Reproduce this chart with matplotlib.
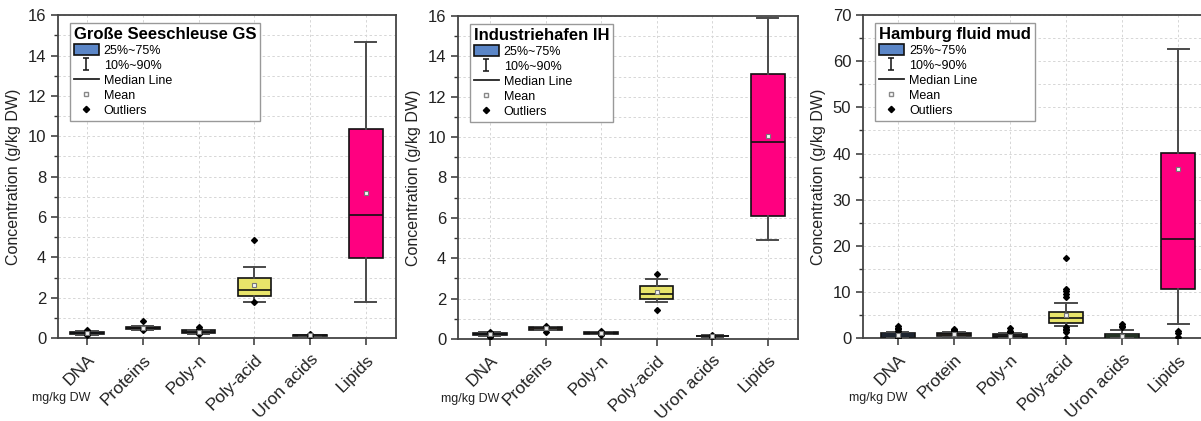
import matplotlib.pyplot as plt
import matplotlib.ticker as mticker
from matplotlib.lines import Line2D
from matplotlib.patches import Patch
from matplotlib.path import Path

plt.rcParams["font.family"] = ["Liberation Sans", "DejaVu Sans"]

# --- data: box statistics per sampling site (g/kg DW) ---
CATEGORIES_GS = ["DNA", "Proteins", "Poly-n", "Poly-acid", "Uron acids", "Lipids"]
CATEGORIES_IH = ["DNA", "Proteins", "Poly-n", "Poly-acid", "Uron acids", "Lipids"]
CATEGORIES_HH = ["DNA", "Protein", "Poly-n", "Poly-acid", "Uron acids", "Lipids"]

GS_P10 = [0.15, 0.40, 0.22, 1.80, 0.10, 1.80]
GS_Q1 = [0.18, 0.43, 0.25, 2.08, 0.11, 3.95]
GS_MED = [0.25, 0.48, 0.30, 2.38, 0.13, 6.10]
GS_Q3 = [0.32, 0.55, 0.38, 2.97, 0.16, 10.38]
GS_P90 = [0.36, 0.60, 0.42, 3.53, 0.17, 14.67]
GS_MEAN = [0.25, 0.49, 0.31, 2.63, 0.13, 7.17]
GS_OUT = [[0.40, 0.13], [0.85, 0.38], [0.55, 0.45, 0.20], [4.88, 1.80], [0.18, 0.08], []]

IH_P10 = [0.14, 0.42, 0.22, 1.82, 0.11, 4.90]
IH_Q1 = [0.17, 0.46, 0.24, 1.98, 0.12, 6.09]
IH_MED = [0.22, 0.52, 0.28, 2.23, 0.14, 9.77]
IH_Q3 = [0.28, 0.58, 0.33, 2.62, 0.16, 13.12]
IH_P90 = [0.32, 0.60, 0.35, 2.96, 0.17, 15.92]
IH_MEAN = [0.23, 0.52, 0.29, 2.34, 0.14, 10.05]
IH_OUT = [[0.36, 0.30, 0.10], [0.62, 0.36], [0.38, 0.18], [3.20, 1.43], [0.17, 0.10], []]

HH_P10 = [0.10, 0.20, 0.10, 2.66, 0.05, 3.00]
HH_Q1 = [0.20, 0.40, 0.20, 3.25, 0.05, 10.60]
HH_MED = [0.60, 0.80, 0.50, 4.40, 0.40, 21.40]
HH_Q3 = [1.00, 1.10, 0.80, 5.63, 0.90, 40.20]
HH_P90 = [1.30, 1.30, 1.00, 7.60, 1.80, 62.70]
HH_MEAN = [0.65, 0.80, 0.55, 4.95, 0.55, 36.70]
HH_OUT = [[1.6, 1.9, 2.2, 2.6, 0.05], [1.5, 1.7, 1.9], [1.3, 1.6, 2.2],
          [17.3, 10.6, 10.1, 9.5, 8.9, 2.3, 2.0, 1.7, 1.3, 0.1],
          [2.3, 2.6, 3.0], [1.5, 1.2, 0.3]]

BOX_COLORS = ["#5b86c7", "#6b5440", "#505050", "#e8e46a", "#7ccf7c", "#ff0080"]
EDGE = "#111111"
WHISKER = "#4a4a4a"

# whisker glyph for the legend: vertical bar with two caps
WHISKER_PATH = Path(
    [(-0.5, -1), (0.5, -1), (0, -1), (0, 1), (-0.5, 1), (0.5, 1)],
    [Path.MOVETO, Path.LINETO, Path.MOVETO, Path.LINETO, Path.MOVETO, Path.LINETO],
)


def make_stats(cats, p10, q1, med, q3, p90, mean, out):
    return [
        dict(label=c, whislo=p10[i], q1=q1[i], med=med[i], q3=q3[i],
             whishi=p90[i], mean=mean[i], fliers=out[i])
        for i, c in enumerate(cats)
    ]


def draw_panel(ax, stats, title, ymax, ystep, yminor, xlim, note_dx):
    pos = list(range(1, len(stats) + 1))
    bp = ax.bxp(
        stats, positions=pos, widths=0.6, capwidths=0.38, patch_artist=True,
        showmeans=True, showfliers=True,
        boxprops=dict(edgecolor=EDGE, linewidth=1.2),
        medianprops=dict(color=EDGE, linewidth=1.2),
        whiskerprops=dict(color=WHISKER, linewidth=1.4),
        capprops=dict(color=WHISKER, linewidth=1.4),
        meanprops=dict(marker="s", markersize=3.2, markerfacecolor="#f4f4f4",
                       markeredgecolor="#777777", markeredgewidth=0.8),
        flierprops=dict(marker="D", markersize=3.0, markerfacecolor="black",
                        markeredgecolor="black"),
        zorder=3,
    )
    for patch, col in zip(bp["boxes"], BOX_COLORS):
        patch.set_facecolor(col)

    ax.set_xlim(*xlim)
    ax.set_ylim(0, ymax)
    ax.yaxis.set_major_locator(mticker.MultipleLocator(ystep))
    ax.yaxis.set_minor_locator(mticker.MultipleLocator(yminor))
    ax.grid(True, which="both", axis="y", color="#d6d6d6",
            linestyle=(0, (2.5, 2.5)), linewidth=0.7, zorder=0)
    ax.grid(True, which="major", axis="x", color="#d6d6d6",
            linestyle=(0, (2.5, 2.5)), linewidth=0.7, zorder=0)
    ax.set_axisbelow(True)

    ax.set_xticks(pos)
    ax.set_xticklabels([s["label"] for s in stats], rotation=45, ha="right",
                       rotation_mode="anchor", fontsize=12.5, color="#222222")
    ax.tick_params(axis="y", which="major", direction="out", length=5,
                   width=1.1, labelsize=12, colors="#333333",
                   labelcolor="#222222")
    ax.tick_params(axis="y", which="minor", direction="out", length=3,
                   width=1.0, colors="#333333")
    ax.tick_params(axis="x", direction="out", length=5, width=1.1,
                   colors="#333333", labelcolor="#222222", pad=5)
    for sp in ax.spines.values():
        sp.set_color("#444444")
        sp.set_linewidth(1.3)

    ax.set_ylabel("Concentration (g/kg DW)", fontsize=11.5, color="#222222",
                  labelpad=5)

    ax.annotate("mg/kg DW", xy=(1, 0), xycoords=("data", "axes fraction"),
                xytext=(note_dx, -60), textcoords="offset pixels",
                ha="center", va="center", fontsize=9, color="#222222")

    handles = [
        Patch(facecolor=BOX_COLORS[0], edgecolor=EDGE, linewidth=1.2),
        Line2D([], [], linestyle="none", marker=WHISKER_PATH, markersize=9,
               color="#222222", markeredgewidth=1.2),
        Line2D([], [], color="#222222", linewidth=1.3),
        Line2D([], [], linestyle="none", marker="s", markersize=3.2,
               markerfacecolor="white", markeredgecolor="#888888"),
        Line2D([], [], linestyle="none", marker="D", markersize=3.2,
               color="black"),
    ]
    labels = ["25%~75%", "10%~90%", "Median Line", "Mean", "Outliers"]
    leg = ax.legend(handles, labels, title=title, loc="upper left",
                    bbox_to_anchor=(0.035, 0.975), fontsize=9,
                    title_fontproperties=dict(weight="bold", size=12),
                    alignment="left", frameon=True, fancybox=False,
                    edgecolor="#999999", framealpha=1, handlelength=2.0,
                    handleheight=0.9, handletextpad=0.4, labelspacing=0.2,
                    borderpad=0.3, borderaxespad=0)
    leg.get_frame().set_linewidth(1.0)


fig = plt.figure(figsize=(12.01, 4.21), dpi=100)
ax1 = fig.add_axes([0.0483, 0.197, 0.2814, 0.767])
ax2 = fig.add_axes([0.3813, 0.195, 0.2831, 0.767])
ax3 = fig.add_axes([0.7186, 0.197, 0.2881, 0.767])

draw_panel(ax1, make_stats(CATEGORIES_GS, GS_P10, GS_Q1, GS_MED, GS_Q3, GS_P90, GS_MEAN, GS_OUT),
           "Große Seeschleuse GS", 16, 2, 1, (0.48, 6.54), -26)
draw_panel(ax2, make_stats(CATEGORIES_IH, IH_P10, IH_Q1, IH_MED, IH_Q3, IH_P90, IH_MEAN, IH_OUT),
           "Industriehafen IH", 16, 2, 1, (0.425, 6.54), -20)
draw_panel(ax3, make_stats(CATEGORIES_HH, HH_P10, HH_Q1, HH_MED, HH_Q3, HH_P90, HH_MEAN, HH_OUT),
           "Hamburg fluid mud", 70, 10, 5, (0.38, 6.55), -20)

fig.savefig("out.png", dpi=100)
